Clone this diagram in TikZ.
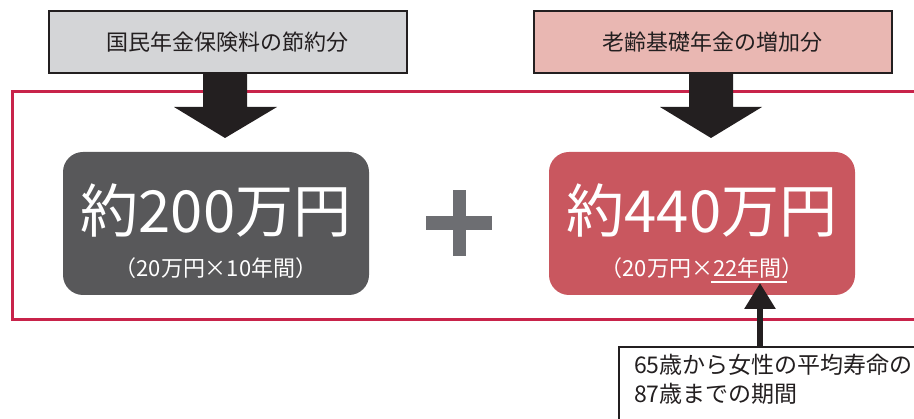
\documentclass[tikz,border=0pt]{standalone}
\usepackage{fontspec}
\setmainfont{Noto Sans CJK JP}
\usetikzlibrary{arrows.meta}
\definecolor{framered}{HTML}{C8234A}
\definecolor{boxgray}{HTML}{D4D5D7}
\definecolor{boxpink}{HTML}{E9B7B2}
\definecolor{darkbox}{HTML}{58585A}
\definecolor{redbox}{HTML}{C9575F}
\definecolor{plusgray}{HTML}{6D6E72}
\definecolor{ink}{HTML}{231F20}
\tikzset{
  x=1pt, y=1pt,
  topbox/.style={draw=ink, line width=2pt, minimum width=358pt, minimum height=62pt, inner sep=0pt,
    font=\fontsize{22}{26}\selectfont, text=ink},
  bigbox/.style={rounded corners=20pt, minimum width=306pt, minimum height=143pt, inner sep=0pt},
  bigtxt/.style={text=white, font=\fontsize{58}{62}\selectfont, inner sep=0pt},
  smalltxt/.style={text=white, font=\fontsize{22}{26}\selectfont, inner sep=0pt},
  blockarrow/.style={fill=ink},
}
\begin{document}
\begin{tikzpicture}
\useasboundingbox (0,0) rectangle (914,-419);
% frame
\draw[framered, line width=3pt] (930,-92) -- (12,-92) -- (12,-320) -- (930,-320);
% top boxes
\node[topbox, fill=boxgray] (lt) at (227.5,-42) {国民年金保険料の節約分};
\node[topbox, fill=boxpink] (rt) at (712.5,-42) {老齢基礎年金の増加分};
% big boxes
\node[bigbox, fill=darkbox] (lb) at (216,-223.5) {};
\node[bigbox, fill=redbox] (rb) at (702,-223.5) {};
\node[bigtxt] (lbig) at (216,-210) {約200万円};
\node[smalltxt] (lsmall) at (216,-268) {（20万円×10年間）};
\node[bigtxt] (rbig) at (702,-210) {約440万円};
\node[smalltxt] (rsmall) at (702,-268) {（20万円×22年間）};
\coordinate (ul1) at (711,-282);
\coordinate (ul2) at (787,-282);
\draw[white, line width=1.4pt] (ul1) -- (ul2);
% block arrows
\fill[blockarrow] (lt.south -| 203,0) -- (203,-107) -- (174,-107) -- (225,-138) -- (277,-107) -- (247,-107) -- (lt.south -| 247,0) -- cycle;
\fill[blockarrow] (rt.south -| 689,0) -- (689,-107) -- (660,-107) -- (711,-138) -- (762,-107) -- (733,-107) -- (rt.south -| 733,0) -- cycle;
% plus
\fill[plusgray] (453,-190) rectangle (466,-256);
\fill[plusgray] (426,-216) rectangle (492,-230);
% note box
\draw[ink, line width=1.3pt, fill=white] (619,-347) rectangle (930,-430);
\node[anchor=north west, inner sep=0pt, align=left, text=ink, font=\fontsize{23}{29}\selectfont] (note) at (634,-354) {65歳から女性の平均寿命の\\87歳までの期間};
\coordinate (nt) at (760,-347);
\coordinate (ut) at (760,-283);
\draw[ink, line width=6pt, -{Triangle[length=26pt,width=30pt]}] (nt) -- (ut);
\end{tikzpicture}
\end{document}
